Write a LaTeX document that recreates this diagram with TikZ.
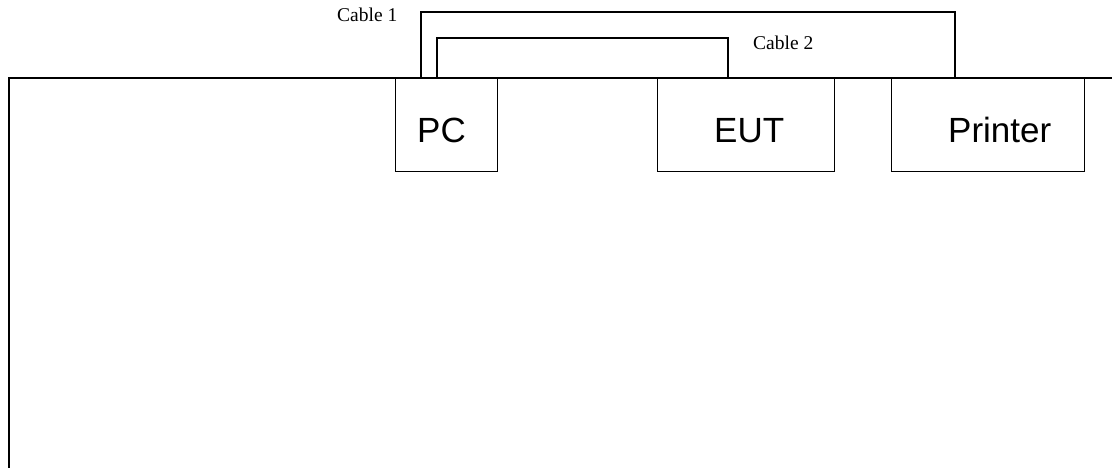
\documentclass[tikz,border=0pt]{standalone}
\usepackage{fontspec}
\setmainfont{Liberation Serif}
\newfontfamily\arialfont{Liberation Sans}
\begin{document}
\begin{tikzpicture}[x=1pt,y=-1pt,
  line join=miter,
  box/.style={draw,line width=1.3pt,rectangle,inner sep=0pt,anchor=north west},
  devtext/.style={anchor=base west,inner sep=0pt,font=\arialfont\fontsize{35}{42}\selectfont},
  cabletext/.style={anchor=base west,inner sep=0pt,font=\fontsize{19.5}{23}\selectfont},
  cable/.style={line width=1.3pt}]
\useasboundingbox (0,0) rectangle (1112,468);
% table edge
\coordinate (tbl) at (9,468);
\coordinate (tblcorner) at (9,78);
\coordinate (tblend) at (1112,78);
\draw[line width=1.5pt] (tbl) -- (tblcorner) -- (tblend);
% devices
\node[box,minimum width=102pt,minimum height=93pt] (pc) at (395,78) {};
\node[box,minimum width=177pt,minimum height=93pt] (eut) at (657,78) {};
\node[box,minimum width=193pt,minimum height=93pt] (printer) at (891,78) {};
\node[devtext] (pct) at (417,143) {PC};
\node[devtext] (eutt) at (714,143) {EUT};
\node[devtext] (prt) at (948,143) {Printer};
% cables
\coordinate (c1top) at (955,12);
\coordinate (c2top) at (728,38);
\draw[cable] ([xshift=26pt]pc.north west) |- (c1top) -- ([xshift=64pt]printer.north west);
\draw[cable] ([xshift=42pt]pc.north west) |- (c2top) -- ([xshift=71pt]eut.north west);
\node[cabletext] (c1l) at (337,22) {Cable 1};
\node[cabletext] (c2l) at (753,50) {Cable 2};
\end{tikzpicture}
\end{document}
